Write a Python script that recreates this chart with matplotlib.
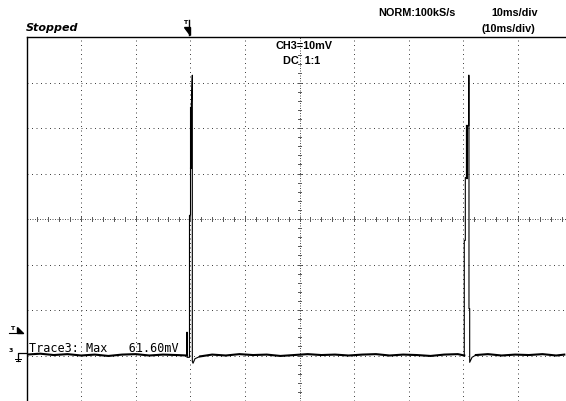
import numpy as np
import matplotlib.pyplot as plt
from matplotlib.patches import Polygon

W, H = 566, 401

# CH3 trace, time in ms from screen centre (10 ms/div), voltage in mV (10 mV/div)
base1_t = [-50, -47.5, -45, -42.5, -40, -37.5, -35, -32.5, -30, -27.5, -25, -22.5, -20.6]
base1_v = [0.2, 0.4, 0.1, 0.3, 0.0, 0.2, -0.1, 0.2, 0.3, 0.0, 0.2, 0.1, 0.0]

pulse1_t = [-20.6, -20.6, -20.6, -20.15, -20.15, -19.96, -19.96, -19.82, -19.82, -19.63, -19.63, -19.5, -19.14, -18.2]
pulse1_v = [0.0, 5.1, -0.4, -0.4, 30.8, 30.8, 41.3, 41.3, 54.5, 61.6, -1.3, -1.7, -0.7, -0.2]

base2_t = [-18.2, -16, -13.5, -11, -8.5, -6, -3.5, -1, 1.5, 4, 6.5, 9, 11.5, 14, 16.5, 19, 21.5, 24, 26.5, 29, 30.18]
base2_v = [-0.2, 0.2, 0.0, 0.3, 0.1, 0.2, -0.1, 0.1, 0.3, 0.1, 0.2, 0.0, 0.2, 0.3, 0.0, 0.2, 0.1, -0.1, 0.2, 0.3, 0.0]

pulse2_t = [30.18, 30.18, 30.37, 30.37, 30.62, 30.62, 30.99, 30.99, 31.04, 31.04, 31.17, 31.17, 31.6, 32.3]
pulse2_v = [0.0, 25.3, 25.3, 39.1, 39.1, 50.5, 50.5, 61.6, 61.6, 10.3, 10.3, -1.5, -0.4, 0.1]

base3_t = [32.3, 34.5, 37, 39.5, 42, 44.5, 47, 48.5]
base3_v = [0.1, 0.3, 0.0, 0.2, 0.1, 0.3, 0.0, 0.2]

max_mv = 61.60

fig = plt.figure(figsize=(W / 100, H / 100), dpi=100)
fig.patch.set_facecolor('white')

# scope screen: left edge at x=26.5 px, top at y=37 px, 54.6 px/div, 45.5 px/div
ax = fig.add_axes([26.5 / W, 0, (W - 26.5) / W, (H - 37) / H])
ax.set_xlim(-50, -50 + (W - 26.5) / 5.46)
ax.set_ylim(-10, 70)
ax.axis('off')

dot = dict(color='#444444', lw=0.72, ls=(0, (1, 3.5)))
for t in range(-40, 50, 10):
    if t != 0:
        ax.axvline(t, **dot)
for v in range(-10, 70, 10):
    if v != 30:
        ax.axhline(v, **dot)

# centre axes with minor ticks
ax.axvline(0, color='#555555', lw=0.72, ls=(0, (1, 1.5)))
ax.axhline(30, color='#555555', lw=0.72, ls=(0, (1, 1.5)))
for t in np.arange(-50, 50, 2):
    ax.plot([t, t], [29.55, 30.45], color='#555555', lw=0.7)
for v in np.arange(-10, 70, 2):
    ax.plot([-0.35, 0.35], [v, v], color='#555555', lw=0.7)

# borders
ax.axhline(70, color='black', lw=1.0, clip_on=False)
ax.axvline(-50, color='black', lw=1.0, clip_on=False)

# trace
lw_base = 1.5
ax.plot(base1_t, base1_v, color='black', lw=lw_base)
ax.plot(base2_t, base2_v, color='black', lw=lw_base)
ax.plot(base3_t, base3_v, color='black', lw=lw_base)
ax.plot(pulse1_t, pulse1_v, color='black', lw=0.8)
ax.plot(pulse2_t, pulse2_v, color='black', lw=0.8)
ax.plot([-19.85, -19.85], [41.3, 54.5], color='black', lw=1.5)
ax.plot([30.7, 30.7], [39.1, 50.5], color='black', lw=1.6)

# overlay in pixel coordinates for the screen annotations
ov = fig.add_axes([0, 0, 1, 1], facecolor='none')
ov.set_xlim(0, W)
ov.set_ylim(H, 0)
ov.axis('off')

sans = ['Liberation Sans', 'DejaVu Sans']
ov.text(26, 28, 'Stopped', fontsize=8, style='italic', weight='bold', family='DejaVu Sans', va='center')
ov.text(378, 13, 'NORM:100kS/s', fontsize=7.8, weight='bold', family=sans, va='center')
ov.text(491, 13, '10ms/div', fontsize=7.8, weight='bold', family=sans, va='center')
ov.text(482, 29, '(10ms/div)', fontsize=7.8, weight='bold', family=sans, va='center')
ov.text(276, 46, 'CH3=10mV', fontsize=7.8, weight='bold', family=sans, va='center')
ov.text(283, 61, 'DC  1:1', fontsize=7.8, weight='bold', family=sans, va='center')
ov.text(29, 348, f'Trace3: Max   {max_mv:.2f}mV', fontsize=8.5, family='DejaVu Sans Mono', va='center')

# trigger marker at top
ov.text(185, 22, 'T', fontsize=4.5, weight='bold', ha='center', va='center')
ov.plot([189, 189], [20, 35], color='black', lw=1)
ov.add_patch(Polygon([[183.5, 27], [189.5, 27], [189.5, 35]], closed=True, color='black'))

# trigger level marker on the left
ov.text(12, 328, 'T', fontsize=4.5, weight='bold', ha='center', va='center')
ov.plot([9, 23], [333, 333], color='black', lw=0.8)
ov.add_patch(Polygon([[16.5, 326.5], [16.5, 333], [23, 333]], closed=True, color='black'))

# channel 3 ground marker
ov.text(10.5, 351, '3', fontsize=4.5, weight='bold', ha='center', va='center')
ov.plot([26, 17.5, 17.5], [353, 353, 361], color='black', lw=0.9)
ov.plot([14.5, 20.5], [358.5, 358.5], color='black', lw=0.7)
ov.plot([15.5, 19.5], [360.5, 360.5], color='black', lw=0.7)

fig.savefig('out.png', dpi=100)
